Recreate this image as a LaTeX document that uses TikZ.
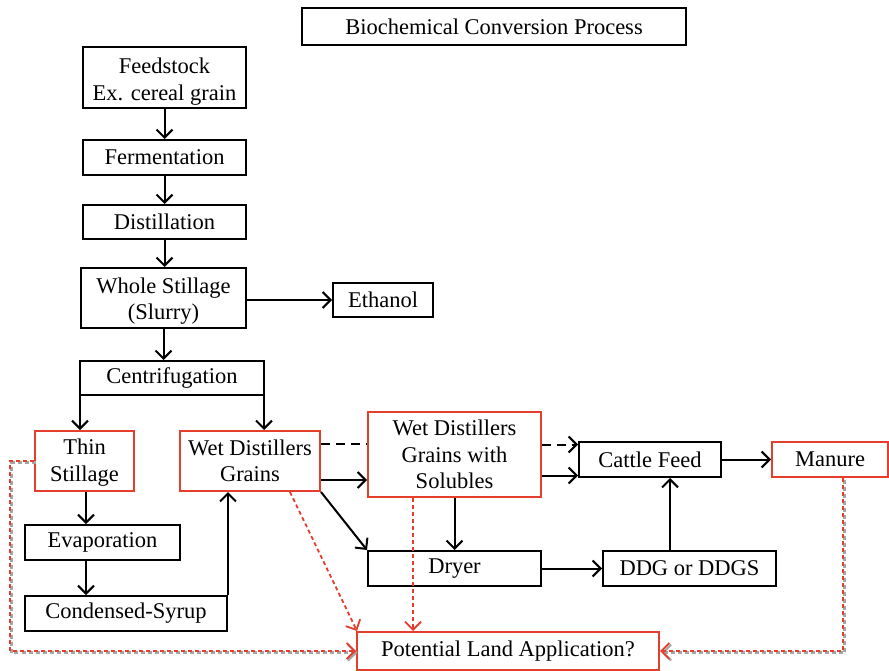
\documentclass[tikz,border=0pt]{standalone}
\usepackage{fontspec}
\setmainfont{Liberation Serif}
\usetikzlibrary{arrows.meta,calc}
\definecolor{boxred}{RGB}{228,62,44}
\newcommand{\lowr}[1]{\rule{0pt}{#1pt}}
\begin{document}
\begin{tikzpicture}[x=1pt,y=-1pt,
  box/.style={draw=black,line width=2pt,fill=white,inner sep=0pt,align=center,
    font=\fontsize{22.5}{26.3}\selectfont},
  rbox/.style={box,draw=boxred},
  arr/.style={line width=2pt,-{Straight Barb[length=8pt,width=16pt]}},
  darr/.style={arr,dash pattern=on 9pt off 6pt},
  rarr/.style={line width=1.8pt,draw=boxred,dash pattern=on 4pt off 3pt,
    -{Straight Barb[length=8pt,width=16pt]}},
  sarr/.style={rarr,preaction={draw=black!35,line width=2.2pt,dash pattern=on 4pt off 3pt,
    transform canvas={shift={(1.5pt,-1.5pt)}}}}
]
\useasboundingbox (0,0) rectangle (889,671);
\node[box,minimum width=384,minimum height=37] (title) at (494,26.5) {Biochemical Conversion Process};
\node[box,minimum width=163,minimum height=61] (feed) at (164.5,77.5) {\lowr{24}Feedstock\\Ex. cereal grain};
\node[box,minimum width=163,minimum height=35] (ferm) at (164.5,157.5) {Fermentation};
\node[box,minimum width=163,minimum height=34] (dist) at (164.5,222) {Distillation};
\node[box,minimum width=165,minimum height=60] (whole) at (163.5,298) {\lowr{22}Whole Stillage\\(Slurry)};
\node[box,minimum width=100,minimum height=34] (eth) at (383,300) {Ethanol};
\node[box,minimum width=184,minimum height=34] (cent) at (172,378) {Centrifugation};
\node[rbox,minimum width=99,minimum height=60] (thin) at (84.5,461) {\lowr{19}Thin\\Stillage};
\node[rbox,minimum width=140,minimum height=60] (wdg) at (250,461) {Wet Distillers\\Grains};
\node[rbox,minimum width=173,minimum height=85] (wdgs) at (454.5,454.5) {Wet Distillers\\Grains with\\Solubles};
\node[box,minimum width=142,minimum height=35] (cattle) at (650,459.5) {Cattle Feed};
\node[rbox,minimum width=116,minimum height=35] (manure) at (830,459.5) {Manure};
\node[box,minimum width=155,minimum height=35] (evap) at (102.5,542.5) {Evaporation};
\node[box,minimum width=202,minimum height=35] (syrup) at (126,613.5) {Condensed-Syrup};
\node[box,minimum width=173,minimum height=35] (dryer) at (454.5,568.5) {Dryer};
\node[box,minimum width=173,minimum height=35] (ddg) at (689.5,568.5) {DDG or DDGS};
\node[rbox,minimum width=302,minimum height=38] (pot) at (508,651) {Potential Land Application?};

\draw[arr] (feed.south) -- (ferm.north);
\draw[arr] (ferm.south) -- (dist.north);
\draw[arr] (dist.south) -- (dist.south |- whole.north);
\draw[arr] (whole.south) -- (whole.south |- cent.north);
\draw[arr] (whole.east |- eth.west) -- (eth.west);
\draw[arr] ([xshift=1pt]cent.south west) -- ([xshift=1pt]cent.south west |- thin.north);
\draw[arr] ([xshift=-1pt]cent.south east) -- ([xshift=-1pt]cent.south east |- wdg.north);
\draw[arr] ([xshift=1.5pt]thin.south) -- ([xshift=1.5pt]thin.south |- evap.north);
\draw[arr] ([xshift=1.5pt]thin.south |- evap.south) -- ([xshift=1.5pt]thin.south |- syrup.north);
\draw[arr] (syrup.north east) -- (syrup.north east |- wdg.south);
\draw[arr] ([yshift=-19pt]wdg.east) -- ([yshift=-19pt]wdg.east -| wdgs.west);
\draw[line width=2pt,dash pattern=on 9pt off 6pt] ([yshift=17pt]wdg.east) -- ([yshift=17pt]wdg.east -| wdgs.west);
\draw[darr] ([yshift=15pt]cattle.west -| wdgs.east) -- ([yshift=15pt]cattle.west);
\draw[arr] ([yshift=-16pt]cattle.west -| wdgs.east) -- ([yshift=-16pt]cattle.west);
\draw[arr] (wdg.south east) -- (dryer.north west);
\draw[arr] (wdgs.south) -- (dryer.north);
\draw[arr] (dryer.east) -- (ddg.west);
\draw[arr] ([xshift=-19.5pt]ddg.north) -- ([xshift=-19.5pt]ddg.north |- cattle.south);
\draw[arr] (cattle.east) -- (manure.west);
\draw[rarr] ([xshift=-41.5pt]wdgs.south) -- ([xshift=-41.5pt]wdgs.south |- pot.north);
\draw[rarr] ([xshift=40pt]wdg.south) -- ([xshift=-151pt]pot.north);
\draw[sarr] (thin.west) -- ++(-24,0) |- (pot.west);
\draw[sarr] ([xshift=13pt]manure.south) |- (pot.east);
\end{tikzpicture}
\end{document}
